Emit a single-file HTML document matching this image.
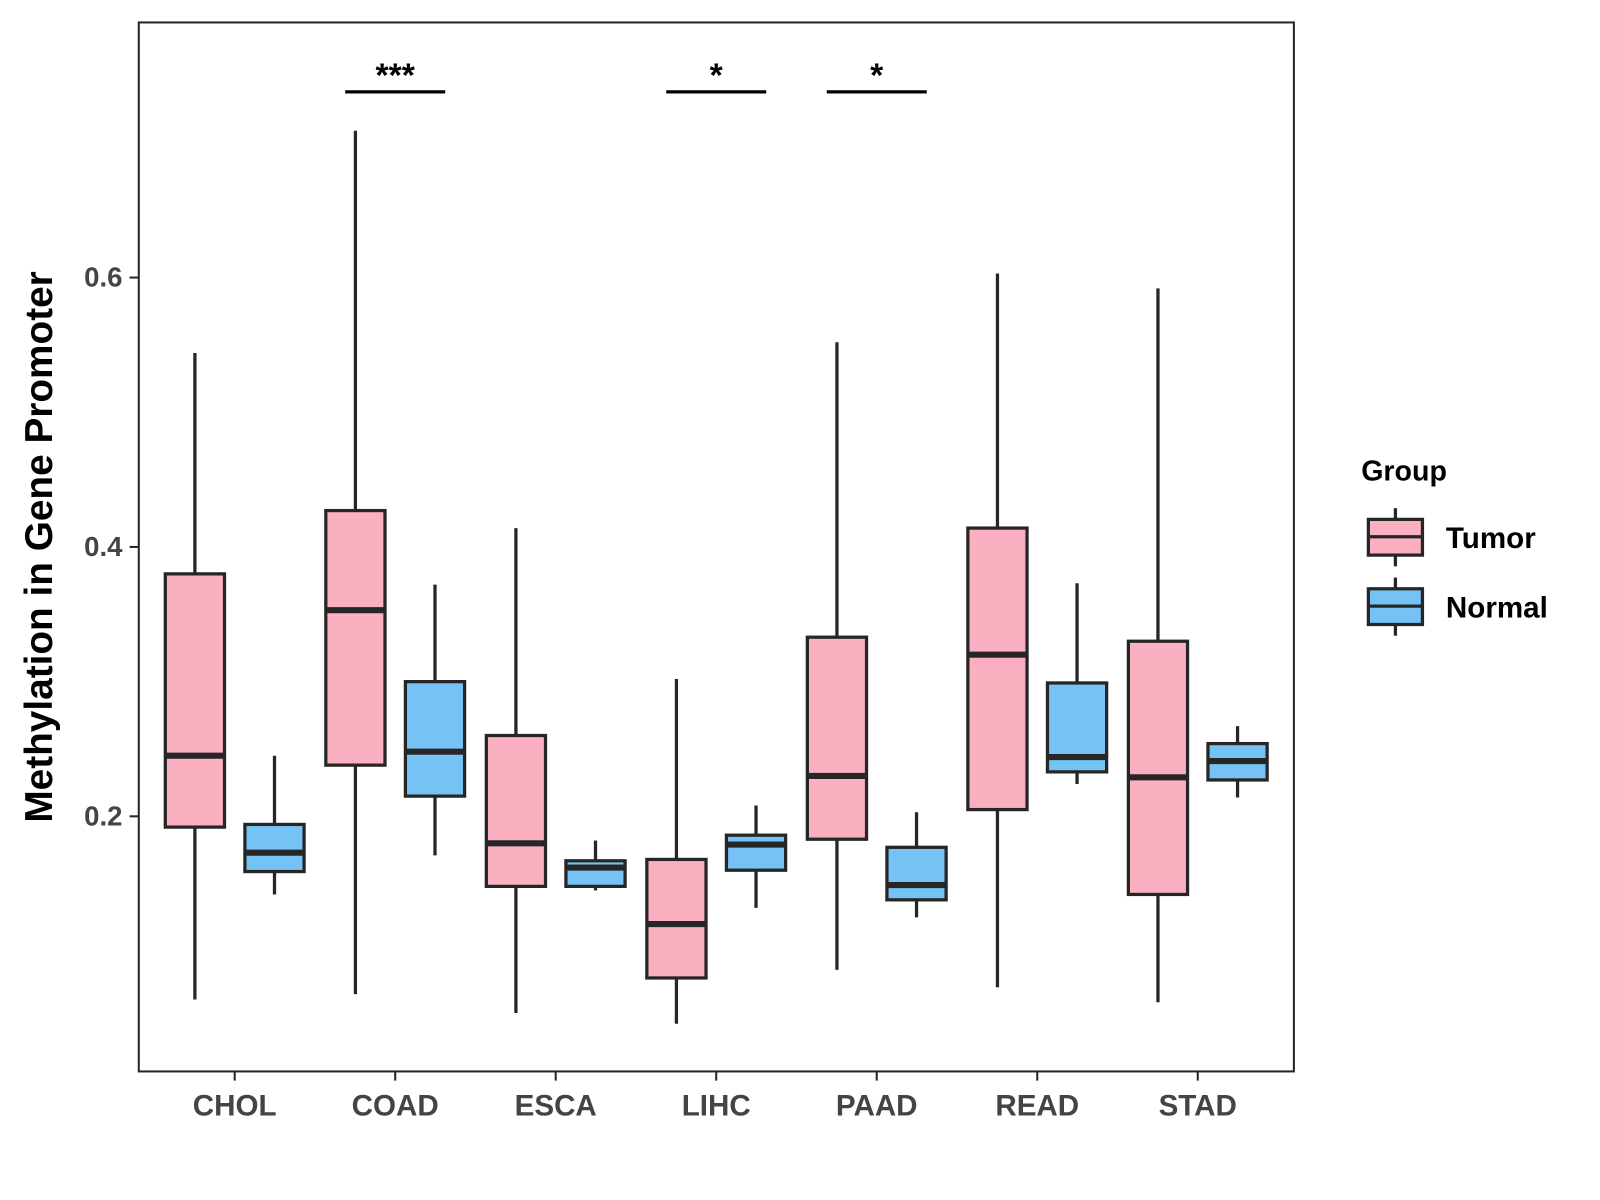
<!DOCTYPE html>
<html><head><meta charset="utf-8"><style>html,body{margin:0;padding:0;background:#fff}svg{display:block}</style></head>
<body>
<svg id="chart" width="1600" height="1200" viewBox="0 0 1568 1176" xmlns="http://www.w3.org/2000/svg" font-family="Liberation Sans, Arial, sans-serif">
<rect x="0" y="0" width="1568" height="1176" fill="#fff"/>
<g id="marks"></g>
<rect x="136" y="22" width="1132" height="1028" fill="none" stroke="#262626" stroke-width="2"/>
<text transform="translate(51,536) rotate(-90)" text-anchor="middle" font-size="38" font-weight="bold" fill="#000">Methylation in Gene Promoter</text>
<g>
<text x="1334" y="471" font-size="28" font-weight="bold" fill="#000">Group</text>
<g>
<line x1="1367.5" y1="498" x2="1367.5" y2="555" stroke="#262626" stroke-width="3.2"/>
<rect x="1341" y="509" width="53" height="35" fill="#FBB0C1" stroke="#262626" stroke-width="3.2"/>
<line x1="1341" y1="526" x2="1394" y2="526" stroke="#262626" stroke-width="3.2"/>
<text x="1417" y="537" font-size="29" font-weight="bold" fill="#000">Tumor</text></g>
<g>
<line x1="1367.5" y1="566" x2="1367.5" y2="623" stroke="#262626" stroke-width="3.2"/>
<rect x="1341" y="577" width="53" height="35" fill="#75C3F5" stroke="#262626" stroke-width="3.2"/>
<line x1="1341" y1="594" x2="1394" y2="594" stroke="#262626" stroke-width="3.2"/>
<text x="1417" y="605" font-size="29" font-weight="bold" fill="#000">Normal</text></g>
</g>
</svg>
<script>
const categories = ["CHOL","COAD","ESCA","LIHC","PAAD","READ","STAD"];
const tumorLow = [0.064,0.068,0.054,0.046,0.086,0.073,0.062];
const tumorQ1 = [0.192,0.238,0.148,0.080,0.183,0.205,0.142];
const tumorMed = [0.245,0.353,0.180,0.120,0.230,0.320,0.229];
const tumorQ3 = [0.380,0.427,0.260,0.168,0.333,0.414,0.330];
const tumorHigh = [0.544,0.709,0.414,0.302,0.552,0.603,0.592];
const normalLow = [0.142,0.171,0.145,0.132,0.125,0.224,0.214];
const normalQ1 = [0.159,0.215,0.148,0.160,0.138,0.233,0.227];
const normalMed = [0.173,0.248,0.162,0.179,0.149,0.244,0.241];
const normalQ3 = [0.194,0.300,0.167,0.186,0.177,0.299,0.254];
const normalHigh = [0.245,0.372,0.182,0.208,0.203,0.373,0.267];
const yTicks = [0.2,0.4,0.6];
const sigCategories = ["COAD","LIHC","PAAD"];
const sigLabels = ["***","*","*"];

const NS="http://www.w3.org/2000/svg";
const g=document.getElementById('marks');
const svg=document.getElementById('chart');
function yS(v){return 800-(v-0.2)*1320;}
function xS(i){return 230+i*157.3;}
function mk(tag,attrs,parent){const e=document.createElementNS(NS,tag);for(const k in attrs)e.setAttribute(k,attrs[k]);(parent||g).appendChild(e);return e;}
const stroke="#262626";
function box(cx,lo,q1,md,q3,hi,fill,name){
  const grp=mk('g',{});
  
  
  mk('line',{x1:cx,x2:cx,y1:yS(hi),y2:yS(lo),stroke:stroke,'stroke-width':3.2},grp);
  mk('rect',{x:cx-29,y:yS(q3),width:58,height:yS(q1)-yS(q3),fill:fill,stroke:stroke,'stroke-width':3.2},grp);
  mk('line',{x1:cx-29,x2:cx+29,y1:yS(md),y2:yS(md),stroke:stroke,'stroke-width':6},grp);
}
categories.forEach((c,i)=>{
  box(xS(i)-39,tumorLow[i],tumorQ1[i],tumorMed[i],tumorQ3[i],tumorHigh[i],"#FBB0C1","box-tumor-"+c.toLowerCase());
  box(xS(i)+39,normalLow[i],normalQ1[i],normalMed[i],normalQ3[i],normalHigh[i],"#75C3F5","box-normal-"+c.toLowerCase());
  const t=mk('line',{x1:xS(i),x2:xS(i),y1:1050,y2:1059,stroke:stroke,'stroke-width':2},svg);
  
  
  const l=mk('text',{x:xS(i),y:1093,'text-anchor':'middle','font-size':29,'font-weight':'bold',fill:'#444'},svg);
  l.textContent=c;
  
  
});
yTicks.forEach(v=>{
  const t=mk('line',{x1:127,x2:136,y1:yS(v),y2:yS(v),stroke:stroke,'stroke-width':2},svg);
  
  
  const l=mk('text',{x:120,y:yS(v)+9,'text-anchor':'end','font-size':27,'font-weight':'bold',fill:'#444'},svg);
  l.textContent=v.toFixed(1);
  
  
});
sigCategories.forEach((c,k)=>{
  const i=categories.indexOf(c);
  const ln=mk('line',{x1:xS(i)-49,x2:xS(i)+49,y1:90,y2:90,stroke:'#000','stroke-width':3.2});
  
  
  const s=mk('text',{x:xS(i),y:85,'text-anchor':'middle','font-size':33,'font-weight':'bold',fill:'#000'});
  s.textContent=sigLabels[k];
  
  
});
</script>
</body></html>
